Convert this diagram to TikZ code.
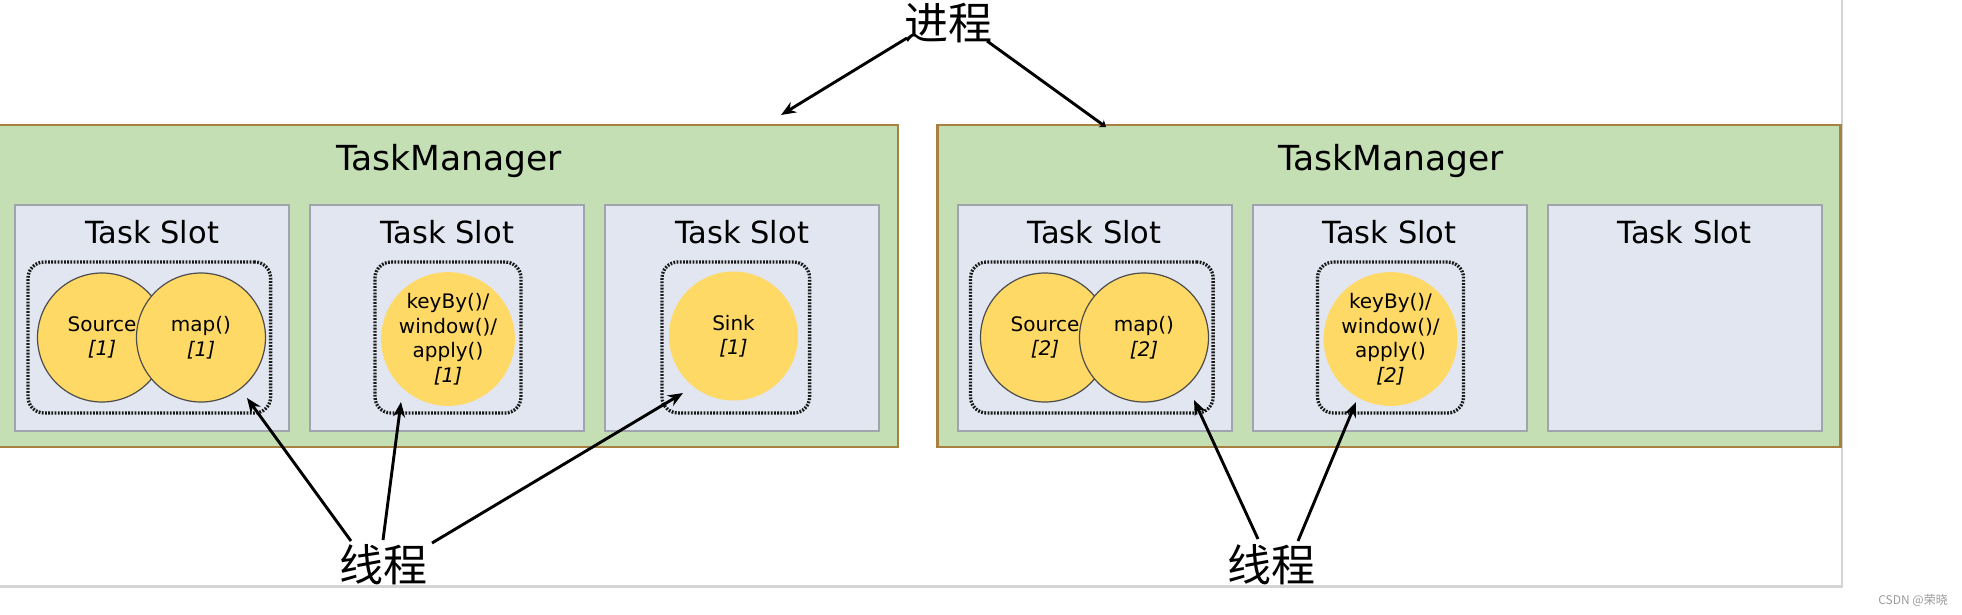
\documentclass[tikz,border=0pt]{standalone}
\usepackage{fontspec}
\setmainfont{DejaVu Sans}
\newfontfamily\cjk{Noto Sans CJK SC}
\usetikzlibrary{arrows.meta}
\definecolor{tmgreen}{HTML}{C5DFB5}
\definecolor{tmborder}{HTML}{A8803F}
\definecolor{slotfill}{HTML}{E1E6F1}
\definecolor{slotborder}{HTML}{A0A4AC}
\definecolor{opyellow}{HTML}{FFD966}
\definecolor{framegray}{HTML}{D4D4D4}
\definecolor{wmgray}{HTML}{9A9A9A}
\begin{document}
\begin{tikzpicture}[x=1pt,y=-1pt,
  tm/.style={rectangle,fill=tmgreen,draw=tmborder,line width=2.8pt,minimum width=903pt,minimum height=322pt,inner sep=0pt},
  slotbox/.style={rectangle,fill=slotfill,draw=slotborder,line width=2pt,minimum width=274pt,minimum height=226pt,inner sep=0pt},
  chainbox/.style={rectangle,draw=black!90,line width=3.3pt,dash pattern=on 1.8pt off 1.4pt,rounded corners=16pt,minimum height=151pt,inner sep=0pt},
  opc/.style={circle,fill=opyellow,minimum size=129pt,inner sep=0pt,font=\fontsize{20}{24.5}\selectfont,align=center},
  opline/.style={draw=black!70,line width=1.2pt},
  tmtitle/.style={font=\fontsize{34.5}{40}\selectfont,anchor=base,inner sep=0pt},
  slottitle/.style={font=\fontsize{30.5}{36}\selectfont,anchor=base,inner sep=0pt},
  zh/.style={font=\cjk\fontsize{44}{50}\selectfont,inner sep=0pt},
  arr/.style={-{Stealth[length=15pt,width=12pt]},line width=2.9pt,black},
]
\useasboundingbox (0,0) rectangle (1962,614);
% page frame lines
\draw[framegray,line width=2pt] (1842,0) -- (1842,587);
\draw[framegray,line width=3pt] (0,586) -- (1843,586);

% TaskManagers
\node[tm] (tmA) at (446.5,286) {};
\node[tm] (tmB) at (1389,286) {};
\node[tmtitle] (tmAt) at (449,170) {TaskManager};
\node[tmtitle] (tmBt) at (1391,170) {TaskManager};

% Slots
\node[slotbox] (sA1) at (152,318) {};
\node[slotbox] (sA2) at (447,318) {};
\node[slotbox] (sA3) at (742,318) {};
\node[slotbox] (sB1) at (1094.5,318) {};
\node[slotbox] (sB2) at (1389.5,318) {};
\node[slotbox] (sB3) at (1684.5,318) {};
\foreach \n/\x in {A1/152,A2/447,A3/742,B1/1094.5,B2/1389.5,B3/1684.5}
  \node[slottitle] (st\n) at (\x,243) {Task Slot};

% Chains (dotted)
\node[chainbox,minimum width=242.6pt] (cA1) at (149.3,337.5) {};
\node[chainbox,minimum width=146pt] (cA2) at (448,337.5) {};
\node[chainbox,minimum width=147.6pt] (cA3) at (735.8,337.5) {};
\node[chainbox,minimum width=242.6pt] (cB1) at (1091.8,337.5) {};
\node[chainbox,minimum width=146pt] (cB2) at (1390.5,337.5) {};

% Operators
\node[opc,opline] (srcA) at (102,337.5) {Source\\\textit{[1]}};
\node[opc,opline] (mapA) at (201,337.5) {map()\\\textit{[1]}};
\node[opc] (keyA) at (448,339) {keyBy()/\\window()/\\apply()\\\textit{[1]}};
\node[opc] (sinkA) at (733.5,336) {Sink\\\textit{[1]}};
\node[opc,opline] (srcB) at (1045,337.5) {Source\\\textit{[2]}};
\node[opc,opline] (mapB) at (1144,337.5) {map()\\\textit{[2]}};
\node[opc] (keyB) at (1390.5,339) {keyBy()/\\window()/\\apply()\\\textit{[2]}};

% Labels
\node[zh] (proc) at (948,23) {进程};
\node[zh] (thrA) at (383,565) {线程};
\node[zh] (thrB) at (1271,565) {线程};
\node[font=\cjk\fontsize{12}{14}\selectfont,text=wmgray,anchor=base,inner sep=0pt] (wm) at (1913,604) {CSDN @荣晓};

% Arrow end points
\coordinate (pA) at (907,38);
\coordinate (pB) at (987,41);
\coordinate (pAh) at (781,115);
\coordinate (pBh) at (1106,127);
\coordinate (tA1) at (351,541);
\coordinate (tA2) at (383,540);
\coordinate (tA3) at (432,543);
\coordinate (hA1) at (247,398);
\coordinate (hA2) at (401,402);
\coordinate (hA3) at (683,393);
\coordinate (tB1) at (1258,539);
\coordinate (tB2) at (1298,541);
\coordinate (hB1) at (1194,400);
\coordinate (hB2) at (1356,402);

\draw[arr] (pA) -- (pAh);
\draw[arr,-{Stealth[length=6pt,width=9pt]}] (pB) -- (pBh);
\draw[arr] (tA1) -- (hA1);
\draw[arr] (tA2) -- (hA2);
\draw[arr] (tA3) -- (hA3);
\draw[arr] (tB1) -- (hB1);
\draw[arr] (tB2) -- (hB2);
\end{tikzpicture}
\end{document}
